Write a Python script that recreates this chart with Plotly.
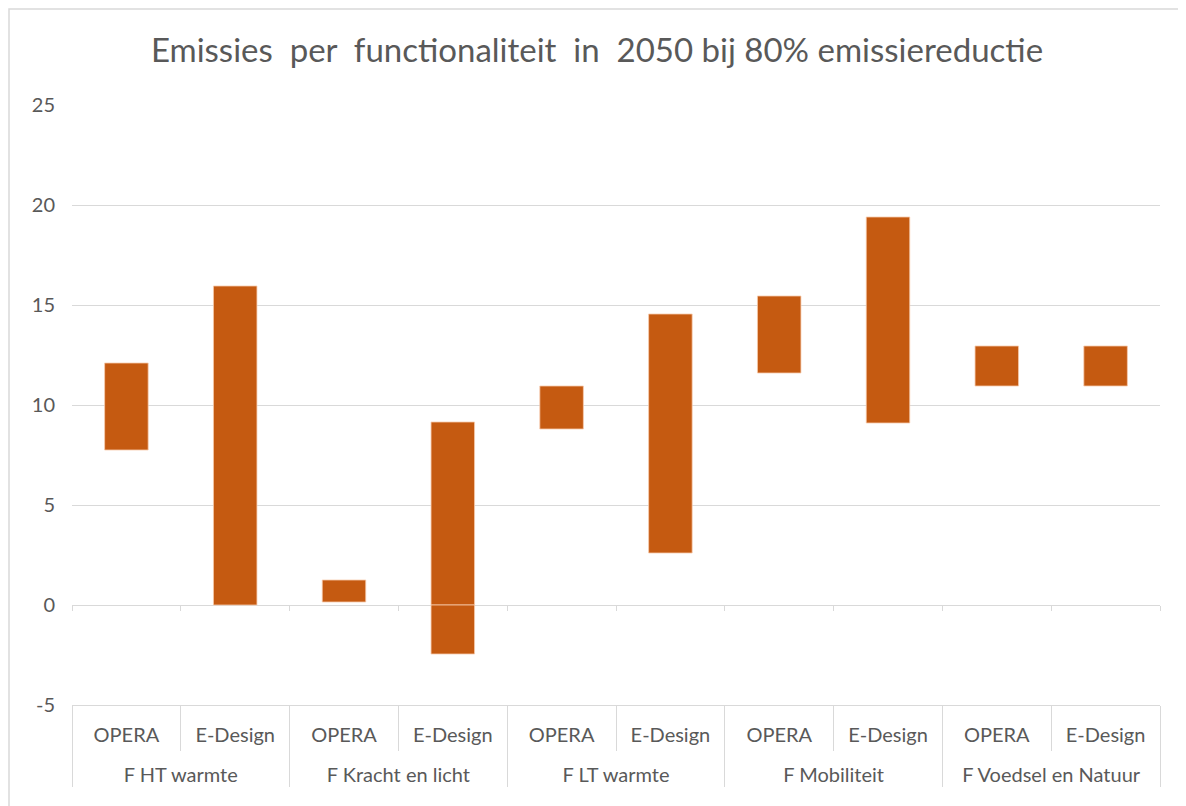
import plotly.graph_objects as go

# ---- data ----
groups = ["F HT warmte", "F HT warmte",
          "F Kracht en licht", "F Kracht en licht",
          "F LT warmte", "F LT warmte",
          "F Mobiliteit", "F Mobiliteit",
          "F Voedsel en Natuur", "F Voedsel en Natuur"]
studies = ["OPERA", "E-Design"] * 5
low_values = [7.75, 0.0, 0.15, -2.45, 8.8, 2.6, 11.6, 9.1, 10.95, 10.95]
high_values = [12.1, 15.95, 1.25, 9.15, 10.95, 14.55, 15.45, 19.4, 12.95, 12.95]
y_ticks = [-5, 0, 5, 10, 15, 20, 25]
y_tick_text = ["-5", "0", "5", "10", "15", "20", "25"]
title_text = "Emissies  per  functionaliteit  in  2050 bij 80% emissiereductie"

# ---- style ----
BAR = "#C55A11"
GRID = "#D9D9D9"
TXT = "#595959"
FONT = "Lato"
OFF = 8                      # page offset of the figure inside the browser window
W, H = 1186 - OFF, 806 - OFF
ML, MR, MT, MB = 72 - OFF, 26, 105 - OFF, 101
ymin, ymax = y_ticks[0], y_ticks[-1]

# group labels pushed one line lower (extra space between the two label rows)
group_display = ["<br>" + g for g in groups]
x = [group_display, studies]

# split each floating bar at zero (as in the original)
pos_base, pos_len, neg_base, neg_len = [], [], [], []
for lo, hi in zip(low_values, high_values):
    if hi > 0:
        b = max(lo, 0)
        pos_base.append(b); pos_len.append(hi - b)
    else:
        pos_base.append(None); pos_len.append(None)
    if lo < 0:
        neg_base.append(lo); neg_len.append(min(hi, 0) - lo)
    else:
        neg_base.append(None); neg_len.append(None)

edge = dict(color="#F8CBAD", width=0.8)
fig = go.Figure()
fig.add_trace(go.Bar(x=x, y=pos_len, base=pos_base, marker=dict(color=BAR, line=edge),
                     hoverinfo="skip", showlegend=False))
fig.add_trace(go.Bar(x=x, y=neg_len, base=neg_base, marker=dict(color=BAR, line=edge),
                     hoverinfo="skip", showlegend=False))
# invisible trace to carry the tick marks of the axis at y = 0
fig.add_trace(go.Scatter(x=x, y=[0] * len(studies), xaxis="x2", mode="markers",
                         marker=dict(opacity=0), hoverinfo="skip", showlegend=False))

n = len(studies)
fig.update_layout(
    width=W, height=H,
    margin=dict(l=ML, r=MR, t=MT, b=MB),
    paper_bgcolor="white", plot_bgcolor="white",
    bargap=0.6, barmode="overlay",
    font=dict(family=FONT, color=TXT, size=20),
    title=dict(text=title_text, x=0.5, xanchor="center", y=1 - (50 - OFF) / H, yanchor="middle",
               font=dict(family=FONT, size=33, color=TXT)),
    xaxis=dict(type="multicategory", range=[-0.5, n - 0.5], showgrid=False, zeroline=False,
               showline=True, linecolor=GRID, linewidth=1,
               ticks="outside", tickson="boundaries", ticklen=45, tickcolor=GRID, tickwidth=1,
               ticklabelstandoff=12,
               showdividers=True, dividercolor=GRID, dividerwidth=1,
               tickfont=dict(family=FONT, size=20, color=TXT)),
    xaxis2=dict(type="multicategory", overlaying="x", anchor="free",
                position=(0 - ymin) / (ymax - ymin), range=[-0.5, n - 0.5],
                showgrid=False, zeroline=False, showline=False, showticklabels=False,
                ticks="outside", tickson="boundaries", ticklen=5, tickcolor=GRID, tickwidth=1,
                showdividers=False),
    yaxis=dict(range=[ymin, ymax], tickvals=y_ticks, ticktext=y_tick_text,
               showgrid=True, gridcolor=GRID, gridwidth=1,
               zeroline=True, zerolinecolor=GRID, zerolinewidth=1, showline=False,
               ticks="", ticklabelstandoff=16, tickfont=dict(family=FONT, size=20, color=TXT)),
)

# chart-area border (Excel frame)
pw, ph = W - ML - MR, H - MT - MB
fig.add_shape(type="rect", xref="paper", yref="paper",
              x0=(1 - ML) / pw, x1=(W + 5 - ML) / pw,
              y0=-(H + 5 - MT - ph) / ph, y1=1 + (MT - 1) / ph,
              line=dict(color=GRID, width=1.5), fillcolor="rgba(0,0,0,0)", layer="below")

fig.write_html("out.html")
